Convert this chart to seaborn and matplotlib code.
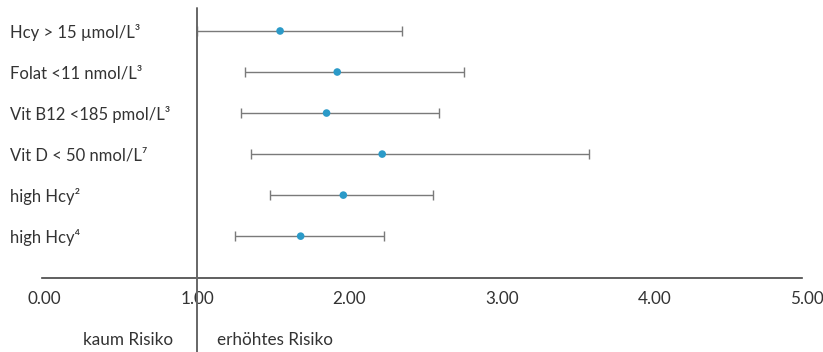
import matplotlib
matplotlib.use("Agg")
import matplotlib.pyplot as plt
import seaborn as sns
import pandas as pd

# values (odds ratio, lower / upper CI)
labels = [
    "Hcy > 15 µmol/L³",
    "Folat <11 nmol/L³",
    "Vit B12 <185 pmol/L³",
    "Vit D < 50 nmol/L⁷",
    "high Hcy²",
    "high Hcy⁴",
]
estimate = [1.545, 1.92, 1.85, 2.215, 1.96, 1.68]
lower = [1.00, 1.315, 1.29, 1.355, 1.48, 1.25]
upper = [2.345, 2.75, 2.59, 3.57, 2.55, 2.23]
x_ticks = [0, 1, 2, 3, 4, 5]
x_tick_labels = ["0.00", "1.00", "2.00", "3.00", "4.00", "5.00"]

df = pd.DataFrame({"label": labels, "est": estimate, "lo": lower, "hi": upper})
df["row"] = range(len(df))

DOT = "#2b9ac8"
GREY = "#7a7a7a"
TEXT = "#333333"

sns.set_style("white")
plt.rcParams["font.family"] = ["Lato", "DejaVu Sans"]

fig = plt.figure(figsize=(8.23, 3.52), dpi=100)
W, H = 823, 352
ax = fig.add_axes([41.6 / W, 1 - 278 / H, 765 / W, 270 / H])

ax.errorbar(
    df["est"], df["row"],
    xerr=[df["est"] - df["lo"], df["hi"] - df["est"]],
    fmt="none", ecolor=GREY, elinewidth=1.0, capsize=3.5, capthick=1.0, zorder=2,
)
sns.scatterplot(data=df, x="est", y="row", color=DOT, s=30, edgecolor="none",
                zorder=3, ax=ax, legend=False)

# reference line at 1.0, running down past the axis
ax.plot([1, 1], [-0.56, 7.9], color="#666666", lw=1.4, clip_on=False, zorder=4)

ax.set_xlim(-0.02, 5.0)
ax.set_ylim(6.02, -0.56)
ax.set_xticks(x_ticks)
ax.set_xticklabels(x_tick_labels)
ax.set_yticks(df["row"])
ax.set_yticklabels(df["label"], ha="left")
ax.set_xlabel("")
ax.set_ylabel("")

for s in ["top", "right", "left"]:
    ax.spines[s].set_visible(False)
ax.spines["bottom"].set_color("#444444")
ax.spines["bottom"].set_linewidth(1.2)
ax.spines["bottom"].set_bounds(-0.02, 4.97)

ax.tick_params(axis="x", length=0, pad=9, labelsize=12.3, labelcolor=TEXT)
ax.tick_params(axis="y", length=0, pad=22.7, labelsize=12, labelcolor=TEXT)
for t in ax.get_xticklabels():
    t.set_x(t.get_position()[0])

ax.annotate("kaum Risiko", xy=(1 - 0.16, 1 - 340 / H), xycoords=("data", "figure fraction"),
            ha="right", va="center", fontsize=12.3, color=TEXT, annotation_clip=False)
ax.annotate("erhöhtes Risiko", xy=(1 + 0.13, 1 - 340 / H), xycoords=("data", "figure fraction"),
            ha="left", va="center", fontsize=12.3, color=TEXT, annotation_clip=False)

fig.savefig("out.png", dpi=100)
